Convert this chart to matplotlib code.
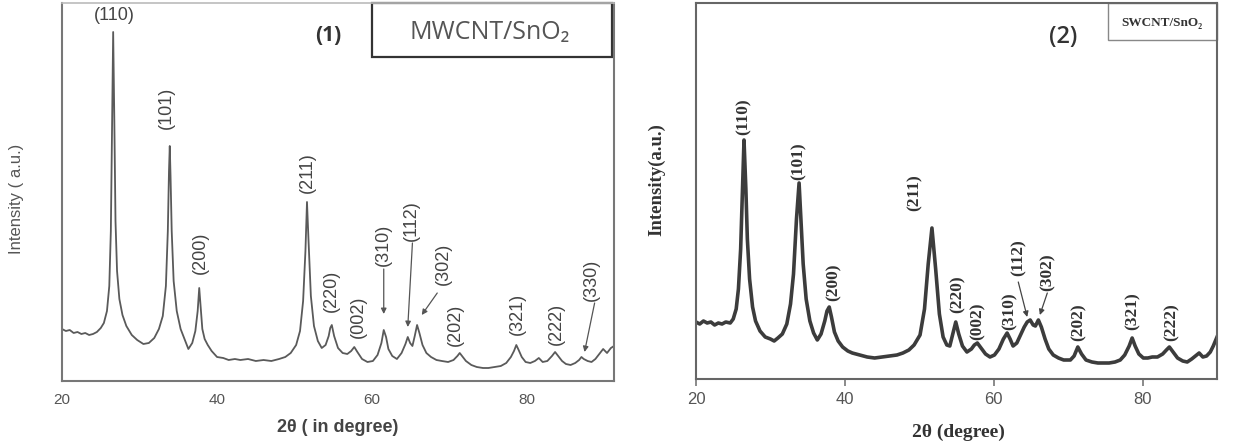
import matplotlib
matplotlib.use('Agg')
import matplotlib.pyplot as plt
from matplotlib.patches import Rectangle

# ---- panel 1 : MWCNT/SnO2 (arbitrary units)
tt1 = [20.0, 20.5, 21.0, 21.5, 22.0, 22.5, 23.0, 23.5, 24.0, 24.5, 25.0, 25.4, 25.8, 26.1,
       26.3, 26.45, 26.6, 26.75, 26.9, 27.1, 27.4, 27.8, 28.3, 29.0, 29.7, 30.5, 31.2, 31.9,
       32.5, 33.0, 33.4, 33.65, 33.8, 33.9, 34.0, 34.15, 34.4, 34.8, 35.3, 35.8, 36.3, 36.8,
       37.2, 37.5, 37.7, 37.9, 38.1, 38.4, 38.8, 39.3, 40.0, 40.8, 41.5, 42.3, 43.0, 44.0,
       45.0, 46.0, 47.0, 48.0, 48.8, 49.5, 50.2, 50.7, 51.1, 51.4, 51.6, 51.8, 52.1, 52.5,
       53.0, 53.5, 54.0, 54.4, 54.6, 54.8, 55.1, 55.6, 56.2, 56.8, 57.3, 57.7, 58.1, 58.7,
       59.4, 60.1, 60.7, 61.2, 61.5, 61.8, 62.1, 62.6, 63.2, 63.8, 64.3, 64.6, 64.9, 65.2,
       65.5, 65.8, 66.1, 66.5, 67.0, 67.6, 68.3, 69.0, 69.8, 70.5, 71.0, 71.3, 71.6, 72.1,
       72.8, 73.5, 74.3, 75.0, 75.8, 76.6, 77.3, 77.9, 78.3, 78.6, 78.9, 79.3, 79.8, 80.4,
       81.0, 81.5, 82.0, 82.6, 83.2, 83.6, 84.0, 84.5, 85.0, 85.6, 86.2, 86.7, 87.0, 87.3,
       87.8, 88.3, 88.8, 89.3, 89.8, 90.3, 90.8, 91.2]
int1 = [52, 50, 51, 48, 49, 47, 48, 46, 47, 49, 53, 58, 70, 95,
        150, 250, 349, 260, 160, 110, 82, 66, 55, 46, 41, 37, 38, 43,
        52, 65, 95, 150, 210, 235, 205, 150, 100, 70, 52, 42, 32, 38,
        50, 70, 93, 72, 52, 42, 36, 30, 24, 23, 21, 22, 21, 22,
        20, 21, 20, 22, 24, 28, 36, 50, 80, 130, 179, 140, 85, 55,
        40, 33, 36, 45, 53, 56, 45, 33, 28, 27, 30, 34, 29, 22,
        19, 20, 26, 38, 51, 44, 32, 25, 22, 28, 37, 44, 38, 35,
        45, 56, 48, 36, 28, 24, 21, 20, 19, 21, 25, 28, 25, 20,
        16, 14, 13, 13, 14, 15, 18, 24, 30, 36, 31, 24, 19, 18,
        20, 23, 19, 20, 25, 29, 25, 20, 17, 16, 18, 21, 24, 22,
        20, 19, 22, 27, 32, 28, 33, 35]

# peak labels panel 1: text, x, y
lab1 = ['(101)', '(200)', '(211)', '(220)', '(002)', '(202)', '(321)', '(222)']
lab1_x = [33.4, 37.8, 51.7, 54.8, 58.2, 70.7, 78.7, 83.8]
lab1_y = [273, 128, 208, 90, 64, 56, 67, 57]
# arrowed labels panel 1: label position, arrow tip and tail
arr1 = ['(310)', '(112)', '(302)', '(330)']
arr1_x = [61.4, 65.0, 69.2, 88.3]
arr1_y = [136, 160, 117, 101]
arr1_tip = [(61.5, 67), (64.6, 54), (66.4, 66), (87.4, 29)]
arr1_tail = [(61.5, 112), (65.2, 138), (68.4, 88), (88.7, 78)]

# ---- panel 2 : SWCNT/SnO2
tt2 = [20.0, 20.5, 21.0, 21.5, 22.0, 22.5, 23.0, 23.5, 24.0, 24.6, 25.0, 25.4, 25.7, 26.0,
       26.2, 26.45, 26.7, 26.9, 27.2, 27.6, 28.0, 28.6, 29.3, 30.0, 30.5, 31.0, 31.6, 32.2,
       32.7, 33.1, 33.5, 33.85, 34.1, 34.4, 34.8, 35.3, 35.8, 36.3, 36.8, 37.3, 37.6, 37.9,
       38.2, 38.6, 39.1, 39.7, 40.4, 41.0, 42.0, 43.0, 44.0, 45.0, 46.0, 47.0, 47.8, 48.6,
       49.3, 50.1, 50.7, 51.2, 51.7, 52.2, 52.7, 53.2, 53.7, 54.1, 54.5, 54.9, 55.3, 55.8,
       56.4, 57.0, 57.4, 57.8, 58.3, 58.9, 59.5, 60.1, 60.7, 61.3, 61.8, 62.2, 62.6, 63.1,
       63.6, 64.1, 64.5, 64.9, 65.3, 65.6, 66.0, 66.4, 66.9, 67.4, 68.0, 68.7, 69.4, 70.3,
       70.8, 71.3, 71.8, 72.4, 73.2, 74.0, 74.8, 75.5, 76.3, 77.0, 77.6, 78.2, 78.6, 79.0,
       79.5, 80.1, 80.7, 81.3, 82.0, 82.7, 83.2, 83.6, 84.1, 84.7, 85.4, 86.0, 86.6, 87.1,
       87.6, 88.1, 88.6, 89.1, 89.5, 90.0]
int2 = [57, 55, 58, 56, 57, 54, 56, 55, 57, 56, 60, 70, 90, 130,
        180, 239, 190, 140, 100, 72, 58, 48, 42, 40, 38, 41, 45, 55,
        75, 105, 160, 196, 160, 115, 80, 58, 46, 39, 45, 58, 68, 72,
        62, 47, 38, 32, 28, 26, 24, 22, 21, 22, 23, 24, 26, 29,
        34, 44, 70, 115, 151, 110, 65, 42, 34, 33, 45, 57, 45, 33,
        27, 30, 34, 36, 31, 25, 22, 24, 30, 40, 46, 40, 33, 36,
        44, 52, 57, 59, 54, 53, 59, 52, 40, 30, 24, 21, 19, 19,
        23, 32, 25, 19, 17, 16, 16, 16, 17, 19, 24, 33, 41, 33,
        25, 21, 21, 22, 22, 25, 29, 32, 27, 21, 18, 17, 20, 23,
        26, 22, 23, 27, 33, 42]

lab2 = ['(110)', '(101)', '(200)', '(211)', '(220)', '(002)', '(310)', '(202)', '(321)', '(222)']
lab2_x = [26.45, 33.85, 38.5, 49.4, 55.2, 57.9, 62.1, 71.4, 78.6, 83.9]
lab2_y = [262, 218, 97, 186, 85, 58, 68, 57, 68, 57]
arr2 = ['(112)', '(302)']
arr2_x = [63.3, 67.3]
arr2_y = [121, 107]
arr2_tip = [(64.5, 62), (66.2, 64)]
arr2_tail = [(63.3, 97), (67.2, 86)]

W, H = 1234, 445
fig = plt.figure(figsize=(W / 100, H / 100), dpi=100)
fig.patch.set_facecolor('white')

sans = ['Liberation Sans', 'DejaVu Sans']
serif = ['Liberation Serif', 'DejaVu Serif']

# ---------------- panel 1
ax1 = fig.add_axes([62 / W, 1 - 381 / H, 552 / W, 378 / H])
ax1.plot(tt1, int1, color='#5a5a5a', lw=1.3)
ax1.set_xlim(20, 91.2)
ax1.set_ylim(0, 378)
ax1.set_yticks([])
ax1.set_xticks([20, 40, 60, 80])
ax1.tick_params(axis='x', length=0, pad=9, labelsize=11, labelcolor='#555555')
for t in ax1.get_xticklabels():
    t.set_family(sans)
for s in ['left', 'bottom', 'right']:
    ax1.spines[s].set_color('#777777')
    ax1.spines[s].set_linewidth(1.5)
ax1.spines['top'].set_color('#bbbbbb')
ax1.spines['top'].set_linewidth(1.2)

ax1.text(26.8, 365, '(110)', ha='center', va='center', fontsize=13,
         family=sans, color='#444444')
for t, x, y in zip(lab1, lab1_x, lab1_y):
    ax1.text(x, y, t, rotation=90, ha='center', va='center', fontsize=13,
             family=sans, color='#444444')
for t, x, y, tip, tail in zip(arr1, arr1_x, arr1_y, arr1_tip, arr1_tail):
    ax1.text(x, y, t, rotation=90, ha='center', va='center', fontsize=13,
             family=sans, color='#444444')
    ax1.annotate('', xy=tip, xytext=tail,
                 arrowprops=dict(arrowstyle='-|>', color='#555555', lw=0.9,
                                 mutation_scale=8, shrinkA=0, shrinkB=0))

ax1.add_patch(Rectangle((0.5616, 0.857), 0.4348, 0.143, transform=ax1.transAxes,
                        fill=False, edgecolor='#333333', lw=1.6, clip_on=False))
ax1.text(0.775, 0.921, 'MWCNT/SnO₂', transform=ax1.transAxes, ha='center', va='center',
         fontsize=18, family=['Open Sans', 'DejaVu Sans'], color='#555555')
ax1.text(0.482, 0.915, '(1)', transform=ax1.transAxes, ha='center', va='center',
         fontsize=15, fontweight='bold', family=['Open Sans', 'DejaVu Sans'], color='#333333')

fig.text(17 / W, 1 - 199 / H, 'Intensity ( a.u.)', rotation=90, ha='center', va='center',
         fontsize=12, family=sans, color='#555555')
fig.text(338 / W, 1 - 427 / H, '2θ ( in degree)', ha='center', va='center',
         fontsize=13, fontweight='bold', family=sans, color='#444444')

# ---------------- panel 2
ax2 = fig.add_axes([696 / W, 1 - 379 / H, 521 / W, 376 / H])
ax2.plot(tt2, int2, color='#3c3c3c', lw=2.6)
ax2.set_xlim(20, 90)
ax2.set_ylim(0, 376)
ax2.set_yticks([])
ax2.set_xticks([20, 40, 60, 80])
ax2.tick_params(axis='x', direction='out', length=5, width=1.2, color='#777777',
                pad=4, labelsize=12, labelcolor='#555555')
for t in ax2.get_xticklabels():
    t.set_family(sans)
for s in ['left', 'bottom', 'right', 'top']:
    ax2.spines[s].set_color('#666666')
    ax2.spines[s].set_linewidth(1.5)

for t, x, y in zip(lab2, lab2_x, lab2_y):
    ax2.text(x, y, t, rotation=90, ha='center', va='center', fontsize=12.5,
             fontweight='bold', family=serif, color='#333333')
for t, x, y, tip, tail in zip(arr2, arr2_x, arr2_y, arr2_tip, arr2_tail):
    ax2.text(x, y, t, rotation=90, ha='center', va='center', fontsize=12.5,
             fontweight='bold', family=serif, color='#333333')
    ax2.annotate('', xy=tip, xytext=tail,
                 arrowprops=dict(arrowstyle='-|>', color='#444444', lw=0.9,
                                 mutation_scale=8, shrinkA=0, shrinkB=0))

ax2.add_patch(Rectangle((0.791, 0.902), 0.209, 0.098, transform=ax2.transAxes,
                        fill=False, edgecolor='#888888', lw=1.0, clip_on=False))
ax2.text(0.894, 0.947, 'SWCNT/SnO₂', transform=ax2.transAxes, ha='center', va='center',
         fontsize=9.5, fontweight='bold', family=serif, color='#333333')
ax2.text(0.704, 0.91, '(2)', transform=ax2.transAxes, ha='center', va='center',
         fontsize=17, fontweight='semibold', family=['Open Sans', 'DejaVu Sans'], color='#333333')

fig.text(657 / W, 1 - 180 / H, 'Intensity(a.u.)', rotation=90, ha='center', va='center',
         fontsize=13.5, fontweight='bold', family=serif, color='#333333')
fig.text(958 / W, 1 - 432 / H, '2θ (degree)', ha='center', va='center',
         fontsize=14, fontweight='bold', family=serif, color='#333333')

fig.savefig('out.png', dpi=100, facecolor='white')
